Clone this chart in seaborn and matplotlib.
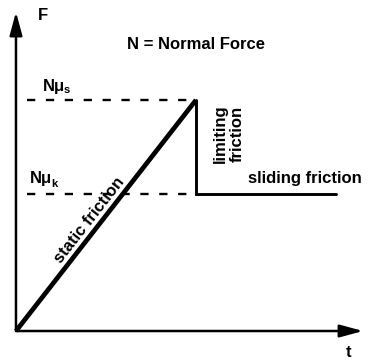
import matplotlib
matplotlib.use("Agg")
import matplotlib.pyplot as plt
import seaborn as sns
import numpy as np

# Friction force F versus time t
t_static = [0.0, 5.0]
F_static = [0.0, 1.0]
t_sliding = [5.0, 5.0, 8.9]
F_sliding = [1.0, 0.593, 0.593]
F_mu_s = 1.0      # N·mu_s level
F_mu_k = 0.593    # N·mu_k level
level_start = 0.3
level_end = 5.0

sns.set_theme(style="white")
plt.rcParams["font.family"] = ["Liberation Sans", "DejaVu Sans"]

fig = plt.figure(figsize=(3.72, 3.63), dpi=100)
ax = fig.add_axes([0, 0, 1, 1])
ax.set_xlim(-0.444, 9.889)
ax.set_ylim(-0.1385, 1.433)
ax.axis("off")

# Axes with arrowheads
arrow_kw = dict(arrowstyle="-|>,head_length=1.4,head_width=0.38",
                color="black", lw=1.8, shrinkA=0, shrinkB=0,
                mutation_scale=10)
ax.annotate("", xy=(0, 1.381), xytext=(0, 0), arrowprops=arrow_kw)
ax.annotate("", xy=(9.64, 0), xytext=(0, 0), arrowprops=arrow_kw)

# Reference levels
ax.hlines([F_mu_s, F_mu_k], level_start, level_end, colors="black",
          linewidth=1.7, linestyles=(0, (3.5, 4.5)))

# Static ramp and drop to sliding friction
sns.lineplot(x=t_static, y=F_static, color="black", linewidth=3.4,
             sort=False, estimator=None, errorbar=None, ax=ax,
             solid_capstyle="butt")
sns.lineplot(x=t_sliding, y=F_sliding, color="black", linewidth=2.1,
             sort=False, estimator=None, errorbar=None, ax=ax,
             solid_joinstyle="miter")

fs = 12
tk = dict(fontweight="bold", color="black")

ax.text(0.75, 1.364, "F", fontsize=fs, ha="center", va="center", **tk)
ax.text(9.25, -0.091, "t", fontsize=fs, ha="center", va="center", **tk)
ax.text(5.0, 1.242, "N = Normal Force", fontsize=fs, ha="center",
        va="center", **tk)

ns = ax.text(0.75, 1.039, "Nμ", fontsize=fs, ha="left", va="baseline", **tk)
ax.annotate("s", xy=(1, 0), xycoords=ns, xytext=(-1, -1),
            textcoords="offset points", fontsize=8, ha="left",
            va="bottom", **tk)
nk = ax.text(0.39, 0.641, "Nμ", fontsize=fs, ha="left", va="baseline", **tk)
ax.annotate("k", xy=(1, 0), xycoords=nk, xytext=(-1, -2),
            textcoords="offset points", fontsize=8, ha="left",
            va="bottom", **tk)

ax.text(5.92, 0.853, "limiting\nfriction", fontsize=fs, rotation=90,
        ha="center", va="center", linespacing=1.15, **tk)
ax.text(6.44, 0.662, "sliding friction", fontsize=fs, ha="left",
        va="center", **tk)

# Label along the static ramp, rotated to the line's on-screen angle
p0 = ax.transData.transform((t_static[0], F_static[0]))
p1 = ax.transData.transform((t_static[1], F_static[1]))
angle = np.degrees(np.arctan2(p1[1] - p0[1], p1[0] - p0[0]))
ax.annotate("static friction", xy=(2.25, 0.452),
            xytext=(-1.5, 1.2), textcoords="offset points",
            fontsize=fs, rotation=angle, rotation_mode="anchor",
            ha="center", va="bottom", **tk)

fig.savefig("out.png", dpi=100)
